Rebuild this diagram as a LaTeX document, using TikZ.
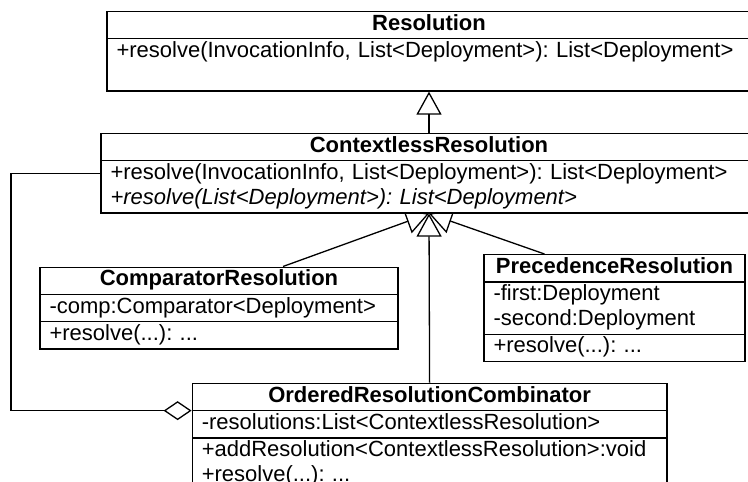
\documentclass[tikz,border=0pt]{standalone}
\usepackage{fontspec}
\setmainfont{Liberation Sans}
\usetikzlibrary{shapes.multipart,arrows.meta,backgrounds}
\setlength{\parindent}{0pt}
\frenchspacing
\newcommand{\classtitle}[1]{\hfill\textbf{#1}\hfill\strut}

\begin{document}
\begin{tikzpicture}[x=1pt,y=-1pt,
    umlclass/.style={draw, fill=white, line width=1.3pt, anchor=north,
      rectangle split, rectangle split parts=#1,
      inner xsep=9.5pt, inner ysep=0.5pt, align=left,
      font=\fontsize{22}{25}\selectfont},
    inherit/.style={line width=1.3pt, -{Triangle[open, length=23pt, width=25pt]}},
    aggregate/.style={line width=1.3pt, -{Diamond[open, length=28pt, width=19pt]}}]
  \useasboundingbox (0,0) rectangle (748,482);
  \clip (0,0) rectangle (748,482);
  % classes
  \node[umlclass=2, text width=625pt] (resolution) at (429,10.7)
    {\classtitle{Resolution}
     \nodepart{second}\strut+resolve(InvocationInfo, List<Deployment>): List<Deployment>\\ \strut};
  \node[umlclass=2, text width=637pt] (contextless) at (429,132.7)
    {\classtitle{ContextlessResolution}
     \nodepart{second}\strut+resolve(InvocationInfo, List<Deployment>): List<Deployment>\\
     \strut\textit{+resolve(List<Deployment>): List<Deployment>}};
  \node[umlclass=3, text width=339pt] (comparator) at (219,266.5)
    {\classtitle{ComparatorResolution}
     \nodepart{second}\strut-comp:Comparator<Deployment>
     \nodepart{third}\strut+resolve(...): ...};
  \node[umlclass=3, text width=242pt] (precedence) at (614.5,254)
    {\classtitle{PrecedenceResolution}
     \nodepart{second}\strut-first:Deployment\\ \strut-second:Deployment
     \nodepart{third}\strut+resolve(...): ...};
  \node[umlclass=3, text width=455.7pt] (combinator) at (429.6,382.7)
    {\classtitle{OrderedResolutionCombinator}
     \nodepart{second}\strut-resolutions:List<ContextlessResolution>
     \nodepart{third}\strut+addResolution<ContextlessResolution>:void\\ \strut+resolve(...): ...};
  \coordinate (aggturn) at (11,300);
  % connectors behind the boxes
  \begin{scope}[on background layer]
    \draw[inherit] (contextless.north) -- (resolution.south);
    \draw[inherit] ([xshift=64pt]comparator.north) -- (contextless.south);
    \draw[inherit] ([xshift=-70pt]precedence.north) -- (contextless.south);
    \draw[inherit] (combinator.north) -- (contextless.south);
    \draw[aggregate] (contextless.west) -| (aggturn) |- (combinator.text split west);
  \end{scope}
\end{tikzpicture}
\end{document}
